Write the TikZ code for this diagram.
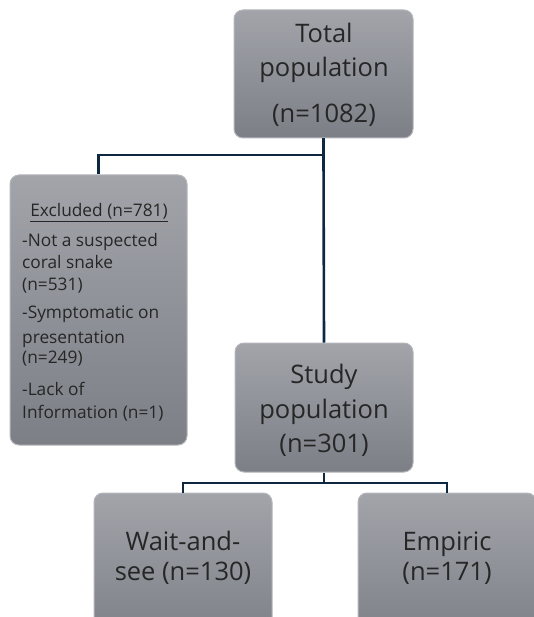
\documentclass[tikz,border=0pt]{standalone}
\usepackage{fontspec}
\setmainfont{Open Sans}
\usetikzlibrary{calc}
\definecolor{boxtop}{HTML}{A2A4AA}
\definecolor{boxbot}{HTML}{7C7F86}
\definecolor{boxedge}{HTML}{B4B6BA}
\definecolor{linknavy}{HTML}{0E2841}
\definecolor{txt}{HTML}{262626}
\tikzset{
  gbox/.style={rounded corners=9pt, draw=boxedge, line width=1pt, top color=boxtop, bottom color=boxbot, inner sep=0pt},
  link/.style={draw=linknavy, line width=2.6pt},
  bigtxt/.style={font=\fontsize{25.5}{30}\selectfont, text=txt, anchor=base, inner sep=0pt},
  smalltxt/.style={font=\fontsize{17.3}{20}\selectfont, text=txt, anchor=base west, inner sep=0pt},
}
\begin{document}
\begin{tikzpicture}[x=1pt,y=-1pt]
\useasboundingbox (0,0) rectangle (534,617);
\clip (0,0) rectangle (534,617);
\fill[white] (0,0) rectangle (534,617);
% boxes
\node[gbox, minimum width=179pt, minimum height=128pt] (total) at (323.5,74) {};
\node[gbox, minimum width=177pt, minimum height=270pt] (excl) at (98.5,310) {};
\node[gbox, minimum width=178pt, minimum height=129pt] (study) at (324,407.5) {};
\node[gbox, minimum width=178pt, minimum height=150pt] (wait) at (183,568) {};
\node[gbox, minimum width=178pt, minimum height=150pt] (emp) at (447,568) {};
% connectors
\coordinate (j1) at (323.5,155);
\coordinate (j2) at (324,483);
\draw[link] (total.south) -- (j1);
\draw[link] (j1) -| (excl.north);
\draw[link] (j1) -- (study.north);
\draw[link] (study.south) -- (j2);
\draw[link] (j2) -| (wait.north);
\draw[link] (j2) -| (emp.north);
% texts
\node[bigtxt] (t1) at (324,43) {Total};
\node[bigtxt] (t2) at (324,77) {population};
\node[bigtxt] (t3) at (324,123) {(n=1082)};
\node[bigtxt] (s1) at (324,383) {Study};
\node[bigtxt] (s2) at (324,418) {population};
\node[bigtxt] (s3) at (324,452) {(n=301)};
\node[bigtxt] (w1) at (183,550) {Wait-and-};
\node[bigtxt] (w2) at (183,580) {see (n=130)};
\node[bigtxt] (e1) at (447,550) {Empiric};
\node[bigtxt] (e2) at (447,580) {(n=171)};
\node[font=\fontsize{17.3}{20}\selectfont, text=txt, anchor=base, inner sep=0pt] (x0) at (99,217) {\underline{Excluded (n=781)}};
\node[smalltxt] (x1) at (22,247) {-Not a suspected};
\node[smalltxt] (x2) at (22,268) {coral snake};
\node[smalltxt] (x3) at (22,290) {(n=531)};
\node[smalltxt] (x4) at (22,318) {-Symptomatic on};
\node[smalltxt] (x5) at (22,343) {presentation};
\node[smalltxt] (x6) at (22,363) {(n=249)};
\node[smalltxt] (x7) at (22,395) {-Lack of};
\node[smalltxt] (x8) at (22,418) {Information (n=1)};
\end{tikzpicture}
\end{document}
